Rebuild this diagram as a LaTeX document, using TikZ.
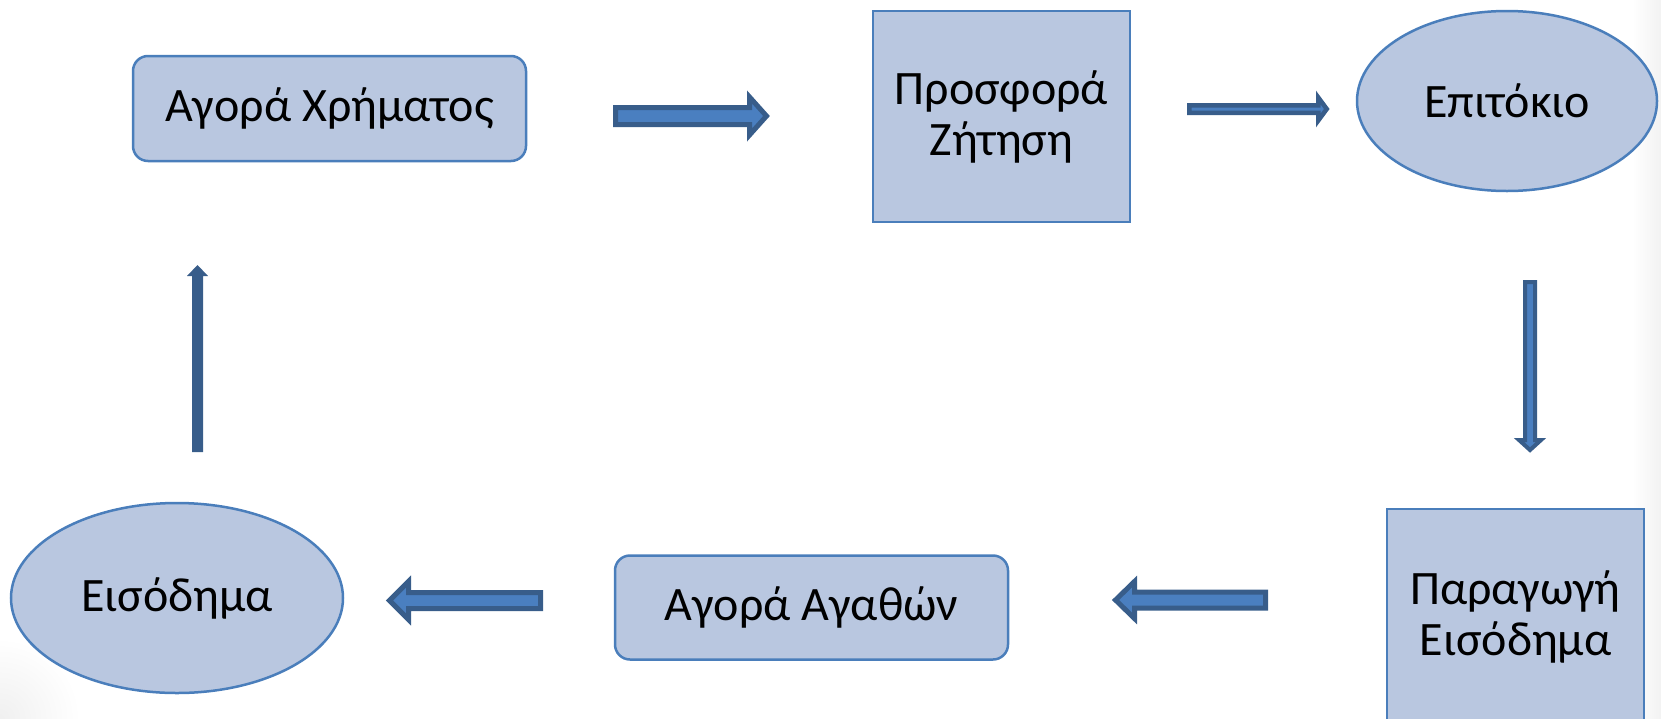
\documentclass[tikz,border=0pt]{standalone}
\usepackage{fontspec}
\setmainfont{Carlito}
\usetikzlibrary{shapes.geometric}
\definecolor{boxfill}{HTML}{B9C7E0}
\definecolor{boxline}{HTML}{4A7EBB}
\definecolor{arrdark}{HTML}{385D8A}
\definecolor{arrlight}{HTML}{4A7FC0}
\tikzset{
  shapebase/.style={draw=boxline, fill=boxfill, line width=2.5pt, inner sep=0pt, align=center, text=black},
  roundbox/.style={shapebase, rectangle, rounded corners=15pt, font=\fontsize{48}{51}\selectfont},
  sqbox/.style={shapebase, rectangle, font=\fontsize{48}{51}\selectfont},
  ellbox/.style={shapebase, ellipse, font=\fontsize{48}{51}\selectfont},
  blockar/.style={draw=arrdark, fill=arrlight, line join=miter, line width=#1},
  blockar/.default=5pt
}
% #1 start coordinate, #2 angle, #3 length, #4 shaft half width, #5 head half width, #6 head length, #7 style
\newcommand{\blockarrow}[7]{%
  \begin{scope}[shift={(#1)}, rotate=#2]
    \path[#7] (0,-#4) -- (#3-#6,-#4) -- (#3-#6,-#5) -- (#3,0) -- (#3-#6,#5) -- (#3-#6,#4) -- (0,#4) -- cycle;
  \end{scope}}
\begin{document}
\begin{tikzpicture}[x=1pt,y=-1pt]
\useasboundingbox (0,0) rectangle (1661,718);
\begin{scope}
\clip (0,0) rectangle (1661,718);
\shade[left color=white, right color=black!5] (1632,0) rectangle (1661,718);
\shade[inner color=black!6, outer color=white] (0,718) circle (80pt);
\node[roundbox, minimum width=393pt, minimum height=105pt] (money) at (329.5,108.5) {Αγορά Χρήματος};
\node[sqbox, minimum width=257pt, minimum height=211pt] (supply) at (1001.5,116.5) {Προσφορά\\Ζήτηση};
\node[ellbox, minimum width=300pt, minimum height=180pt] (rate) at (1507,101) {Επιτόκιο};
\node[sqbox, minimum width=257pt, minimum height=220pt] (prod) at (1515.5,619) {};
\node[font=\fontsize{48}{51}\selectfont, align=center, inner sep=0pt] (prodtext) at (1515.5,617) {Παραγωγή\\Εισόδημα};
\node[roundbox, minimum width=393pt, minimum height=104pt] (goods) at (811.5,607.5) {Αγορά Αγαθών};
\node[ellbox, minimum width=332pt, minimum height=190pt] (income) at (177,598) {Εισόδημα};
\end{scope}
% arrows
\coordinate (a1) at (615.5,116);
\coordinate (a2) at (1189.25,109);
\coordinate (a3) at (1530,282);
\coordinate (a4) at (1265.5,600);
\coordinate (a5) at (540.5,600.5);
\coordinate (a6) at (197.5,452);
\blockarrow{a1}{0}{151}{8.5}{19}{17}{blockar}
\blockarrow{a2}{0}{137.5}{3.75}{11.5}{8.5}{blockar=4.5pt}
\blockarrow{a3}{-90}{168}{5}{11}{10}{blockar=4pt}
\blockarrow{a4}{180}{150}{8}{18.5}{19}{blockar}
\blockarrow{a5}{180}{151}{8}{19}{19}{blockar}
\blockarrow{a6}{90}{187}{5.5}{10.5}{11}{fill=arrdark}
\end{tikzpicture}
\end{document}
